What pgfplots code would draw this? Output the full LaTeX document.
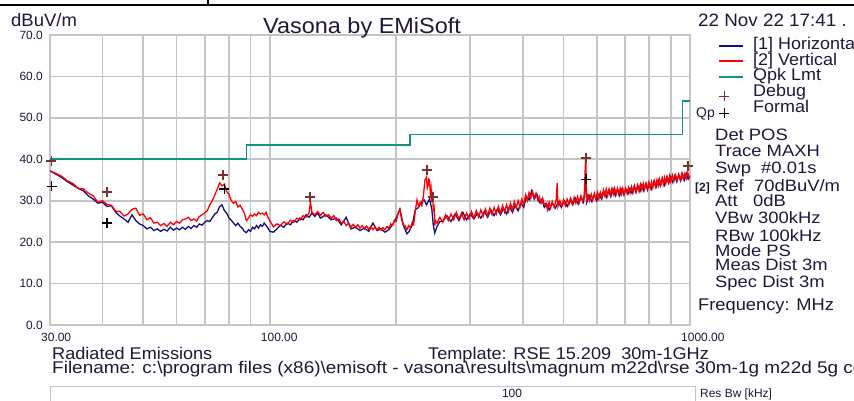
\documentclass[border=0pt]{standalone}
\usepackage{pgfplots}
\pgfplotsset{compat=1.18}
\usepackage{fontspec}
\setmainfont{Liberation Sans}
\usepackage{graphicx}
\definecolor{navy}{HTML}{10107F}
\definecolor{tealL}{HTML}{14908A}
\definecolor{gridg}{HTML}{C4C4C4}
\definecolor{txt}{HTML}{1A1A3A}
\definecolor{dbg}{HTML}{7A3030}
\newcommand{\T}[3]{{\fontsize{#1}{#1}\selectfont\scalebox{#2}[1]{#3}}}
\pgfplotsset{
  lineleg/.style={legend image code/.code={\draw[##1, line width=2bp] (0bp,0bp) -- (24bp,0bp);}},
  markleg/.style={legend image code/.code={\draw[##1] plot coordinates {(5bp,-4bp)};}},
}
\begin{document}
\begin{tikzpicture}[x=1bp,y=1bp]
\useasboundingbox (0,0) rectangle (854,400);
\clip (0,0) rectangle (854,400);
\fill[white] (0,0) rectangle (854,400);
% top table rule
\draw[line width=2bp] (0,395) -- (854,395);
\draw[line width=1.5bp] (208,395) -- (208,401);
\begin{axis}[
  at={(50bp,75bp)}, anchor=south west, scale only axis,
  width=640bp, height=290bp,
  xmode=log, xmin=30, xmax=1000, ymin=0, ymax=70,
  xtick={30,40,50,60,70,80,90,100,200,300,400,500,600,700,800,900,1000},
  xticklabels={30.00,,,,,,,100.00,,,,,,,,,1000.00},
  ytick={0,10,20,30,40,50,60,70},
  yticklabels={0.0,10.0,20.0,30.0,40.0,50.0,60.0,70.0},
  major tick length=0pt,
  grid=major,
  major grid style={draw=gridg, line width=1.8bp},
  axis line style={draw=gridg, line width=1.8bp},
  xticklabel style={font=\fontsize{12}{12}\selectfont, text=txt, anchor=north west, inner sep=0pt, xshift=-9bp, yshift=-8bp},
  yticklabel style={font=\fontsize{12}{12}\selectfont, text=txt, anchor=east, inner sep=0pt, xshift=-7bp},
  clip mode=individual,
  legend style={at={(axis description cs:1,1)}, anchor=north west, xshift=28bp, yshift=-3bp,
    draw=none, fill=none, inner sep=0pt, column sep=9bp, row sep=0pt,
    nodes={inner sep=0pt, text height=11.5bp, text depth=4bp, text=txt, font=\fontsize{17}{17}\selectfont}},
  legend cell align=left,
]
% [1] Horizontal
\addplot[navy, line width=1.3bp, lineleg] coordinates {
(30,37.2)(31,36.4)(32,35.6)(33,34.6)(34,33.8)(35,33.0)(36,32.4)(37,31.2)(38,30.4)(39,29.4)(40,29.6)(41,28.6)(42,28.8)(43,27.2)(44,26.3)(45,25.6)(46,24.8)(47,26.6)(48,25.2)(49,24.4)(50,24.0)(51,23.2)(52,23.6)(53,22.8)(54,23.2)(55,22.6)(56,23.1)(57,22.7)(58,23.6)(59,22.9)(60,23.4)(61,23.0)(62,23.6)(63,23.1)(64,23.8)(65,23.3)(66,24.0)(67,23.6)(68,24.4)(69,24.1)(70,24.8)(71,25.2)(72,25.0)(73,25.9)(74,26.8)(75,27.2)(76,28.6)(77,29.0)(78,27.6)(79,27.0)(80,25.8)(81,25.3)(82,24.6)(83,24.0)(84,24.6)(85,23.8)(86,23.4)(87,22.6)(88,22.3)(89,23.0)(90,22.6)(91,23.6)(92,23.2)(93,24.0)(94,23.4)(95,24.2)(96,23.8)(97,24.6)(98,24.0)(99,23.4)(100,22.6)(102,22.4)(104,23.2)(106,24.1)(108,23.6)(110,24.6)(112,24.2)(114,25.2)(116,24.8)(118,25.8)(120,25.4)(122,26.6)(124,26.0)(126,27.0)(128,26.2)(130,27.0)
(132,25.8)(136,26.6)(140,25.4)(144,25.8)(148,24.2)(152,26.0)(156,23.2)(160,23.6)(164,22.8)(168,23.4)(172,22.6)(176,24.6)(180,22.8)(184,23.2)(188,22.4)(192,23.0)(196,24.2)(200,25.8)(204,28.0)(208,24.0)(212,22.0)(214,22.4)(218,24.0)(222,27.8)(226,28.4)(230,29.8)(233,30.2)(236,29.0)(240,30.4)(243,28.0)(245,24.0)(247,22.2)(250,23.8)(254,25.0)
(258,25.0)(264,26.4)(270,25.0)(276,26.8)(282,25.2)(288,27.2)(294,25.4)(300,26.8)(306,25.6)(312,27.0)(318,25.8)(324,27.4)(330,26.0)(336,27.8)(342,26.4)(348,28.0)(354,26.6)(360,28.2)(366,26.8)(372,28.6)(378,27.2)(384,29.0)(390,27.6)(396,29.4)(402,28.4)(408,31.0)(414,30.2)(420,32.4)(426,30.4)(432,31.6)(438,29.6)(444,30.4)(450,28.4)(456,29.2)(462,27.8)(470,29.4)(478,28.2)(486,29.6)(494,28.4)(502,30.0)(510,28.6)(518,30.2)(526,29.0)(534,30.6)(542,29.2)(550,30.8)(558,29.6)(566,35.0)(568,29.6)(576,31.2)(584,29.8)(592,31.4)(600,30.0)(608,31.6)(616,30.4)(624,32.2)(632,30.8)(640,32.4)(648,31.0)(656,32.8)(664,31.2)(672,32.8)(680,31.2)(688,32.8)(696,31.4)(704,32.8)(712,31.6)(720,33.0)(728,31.8)(736,33.4)(744,32.0)(752,33.6)(760,32.2)(768,33.8)(776,32.4)(784,34.0)(792,32.6)(800,34.2)(810,32.8)(820,34.6)(830,33.2)(840,35.0)(850,33.6)(860,35.4)(870,33.8)(880,35.6)(890,34.2)(900,35.8)(910,34.4)(920,36.0)(930,34.6)(940,36.2)(950,34.8)(960,36.4)(970,35.0)(980,36.6)(990,35.2)(1000,36.0)
};
\addlegendentry{\T{17}{1.06}{[1] Horizontal}}
% [2] Vertical
\addplot[red, line width=1.3bp, lineleg] coordinates {
(30,37.2)(31,36.6)(32,35.9)(33,34.8)(34,34.2)(35,33.0)(36,32.9)(37,31.8)(38,31.2)(39,29.6)(40,30.0)(41,29.1)(42,28.9)(43,27.5)(44,27.4)(45,26.3)(46,26.8)(47,27.9)(48,28.2)(49,26.5)(50,26.8)(51,25.4)(52,25.9)(53,24.6)(54,24.8)(55,24.0)(56,24.5)(57,23.8)(58,24.8)(59,24.2)(60,25.0)(61,24.6)(62,25.4)(63,25.6)(64,26.0)(65,25.2)(66,25.6)(67,25.1)(68,26.2)(69,26.6)(70,27.0)(71,27.6)(72,29.0)(73,30.0)(74,31.4)(75,32.8)(76,34.3)(77,33.6)(78,34.0)(79,32.2)(80,31.5)(81,30.0)(82,29.4)(83,29.8)(84,28.5)(85,28.9)(86,28.0)(87,27.0)(88,25.2)(89,25.8)(90,26.6)(91,26.2)(92,26.8)(93,26.4)(94,27.2)(95,26.8)(96,27.0)(97,26.6)(98,27.2)(99,26.0)
(100,25.2)(102,23.7)(104,24.4)(106,24.0)(108,24.9)(110,24.3)(112,25.3)(114,24.8)(116,25.8)(118,25.3)(120,26.4)(122,26.0)(124,27.0)(125,29.7)(126,27.2)(128,26.6)(130,27.4)(132,26.5)(134,27.2)(136,26.2)(138,26.6)(140,25.8)(142,26.4)(144,25.2)(146,25.6)(148,24.6)(150,25.0)(152,24.0)(154,24.6)(156,23.6)(158,24.3)(160,23.5)(162,24.2)(164,23.4)(166,24.0)(168,23.2)(170,23.9)(172,23.1)(174,23.8)(176,23.0)(178,23.7)(180,23.0)(182,23.6)(184,22.9)(186,23.5)(188,23.0)(190,23.8)(192,23.3)(194,24.4)(196,24.0)(198,25.4)(200,25.0)(202,27.0)(204,27.8)(206,25.4)(208,24.2)(210,23.9)(212,23.0)(214,24.0)(216,23.4)(218,24.6)(220,24.2)(222,27.6)(224,30.2)(226,28.6)(228,29.6)(230,28.8)(232,31.0)(234,35.0)(236,35.7)(237,33.0)(238,33.6)(239,35.2)(240,35.0)(241,31.8)(242,33.0)(243,29.6)(244,30.9)(245,28.0)(246,28.5)(247,24.0)(248,25.2)
(250,24.6)(254,26.0)(258,24.8)(262,26.6)(266,25.2)(270,26.8)(274,25.4)(278,27.2)(282,25.6)(286,27.0)(290,25.4)(294,27.0)(298,25.6)(302,27.4)(306,25.8)(310,27.6)(314,26.0)(318,27.8)(322,26.2)(326,28.0)(330,26.4)(334,28.2)(338,26.6)(342,28.4)(346,26.8)(350,28.6)(354,27.0)(358,28.8)(362,27.2)(366,29.0)(370,27.4)(374,29.4)(378,27.8)(382,29.8)(386,28.2)(390,30.0)(394,28.4)(398,30.4)(402,29.0)(406,31.4)(410,30.0)(414,32.0)(418,30.6)(422,32.2)(426,30.8)(430,31.8)(434,30.2)(438,31.0)(442,29.4)(446,30.6)(450,29.0)(454,29.4)(458,27.8)(462,29.6)(466,28.2)(470,29.8)(475,28.4)(480,30.0)(483,34.3)(485,28.6)(490,30.0)(495,28.6)(500,30.2)(505,28.8)(510,30.4)(515,29.0)(520,30.6)(525,29.2)(530,30.8)(535,29.4)(540,31.0)(545,29.6)(550,31.2)(555,29.8)(560,31.2)(565,41.5)(567,30.0)(572,31.4)(577,30.0)(582,31.6)(587,30.2)(592,31.8)(597,30.4)(602,32.0)(607,30.4)(612,32.0)(617,30.8)(622,32.6)(627,31.2)(632,32.8)(637,31.2)(642,32.8)(647,31.4)(652,33.0)(657,31.6)(662,33.0)(667,31.6)(672,33.0)(677,31.6)(682,33.0)(687,31.6)(692,33.0)(697,31.6)(702,33.0)(708,31.8)(714,33.2)(720,31.8)(726,33.4)(732,32.0)(738,33.6)(744,32.2)(750,33.8)(756,32.4)(762,34.0)(768,32.6)(774,34.2)(780,32.8)(786,34.2)(792,32.8)(798,34.4)(804,33.0)(810,34.6)(816,33.2)(822,34.8)(828,33.4)(834,35.0)(840,33.6)(846,35.2)(852,33.8)(858,35.4)(864,34.0)(870,35.6)(876,34.2)(882,35.8)(888,34.4)(894,36.0)(900,34.6)(908,36.2)(916,34.8)(924,36.2)(932,35.0)(940,36.4)(948,35.0)(956,36.6)(964,35.2)(972,36.6)(980,35.4)(988,36.8)(995,35.6)(1000,36.0)
};
\addlegendentry{\T{17}{1.06}{[2] Vertical}}
% Qpk limit
\addplot[tealL, line width=1.8bp, lineleg] coordinates {
(30,40)(88,40)(88,43.5)(216,43.5)(216,46)(960,46)(960,54)(1000,54)
};
\addlegendentry{\T{17}{1.06}{Qpk Lmt}}
% Debug peaks
\addplot[only marks, mark=+, mark size=5bp, dbg, line width=1.3bp, markleg] coordinates {
(30.2,39.6)(41.0,32.1)(77.4,36.2)(124.7,30.9)(236.7,37.4)(244.6,30.9)(566,40.3)(989,38.4)
};
\addlegendentry{\T{17}{1.06}{Debug}}
% Formal
\addplot[only marks, mark=+, mark size=5bp, black, line width=1.3bp, markleg] coordinates {
(30.3,33.5)(41.0,24.6)(77.9,32.8)(566,35.2)
};
\addlegendentry{\T{17}{1.06}{Formal}}
\end{axis}
% texts
\node[anchor=base west, inner sep=0pt, text=txt] at (11,374) {\T{18}{1.03}{dBuV/m}};
\node[anchor=base west, inner sep=0pt, text=txt] at (263,367) {\T{22}{1.07}{Vasona by EMiSoft}};
\node[anchor=base west, inner sep=0pt, text=txt] at (698,374) {\T{18}{1.05}{22 Nov 22 17:41 .}};
\node[anchor=base west, inner sep=0pt, text=txt] at (696,283) {\T{14}{1.0}{Qp}};
\node[anchor=base west, inner sep=0pt, text=txt] at (715,260) {\T{16.5}{1.12}{Det POS}};
\node[anchor=base west, inner sep=0pt, text=txt] at (715,244) {\T{16.5}{1.12}{Trace MAXH}};
\node[anchor=base west, inner sep=0pt, text=txt] at (715,227) {\T{16.5}{1.12}{Swp\ \ \#0.01s}};
\node[anchor=base west, inner sep=0pt, text=txt] at (695,209) {\T{12}{1.0}{\bfseries [2]}};
\node[anchor=base west, inner sep=0pt, text=txt] at (715,209) {\T{16.5}{1.12}{Ref\ \ 70dBuV/m}};
\node[anchor=base west, inner sep=0pt, text=txt] at (715,194) {\T{16.5}{1.12}{Att\ \ \ 0dB}};
\node[anchor=base west, inner sep=0pt, text=txt] at (715,177) {\T{16.5}{1.12}{VBw 300kHz}};
\node[anchor=base west, inner sep=0pt, text=txt] at (715,159) {\T{16.5}{1.12}{RBw 100kHz}};
\node[anchor=base west, inner sep=0pt, text=txt] at (715,144) {\T{16.5}{1.12}{Mode PS}};
\node[anchor=base west, inner sep=0pt, text=txt] at (715,130) {\T{16.5}{1.12}{Meas Dist 3m}};
\node[anchor=base west, inner sep=0pt, text=txt] at (715,113) {\T{16.5}{1.12}{Spec Dist 3m}};
\node[anchor=base west, inner sep=0pt, text=txt] at (698,90) {\T{17}{1.08}{Frequency: MHz}};
\node[anchor=base west, inner sep=0pt, text=txt] at (52,41) {\T{17}{1.07}{Radiated Emissions}};
\node[anchor=base west, inner sep=0pt, text=txt] at (428,41) {\T{17}{1.07}{Template: RSE 15.209\ \ 30m-1GHz}};
\node[anchor=base west, inner sep=0pt, text=txt] at (52,27) {\T{17}{1.12}{Filename: c:\textbackslash program files (x86)\textbackslash emisoft - vasona\textbackslash results\textbackslash magnum m22d\textbackslash rse 30m-1g m22d 5g conducted}};
% resolution bandwidth bar
\draw[gridg, line width=1bp] (50,-5) rectangle (695,14);
\node[anchor=base, inner sep=0pt, text=txt] at (512,3) {\T{12}{1.0}{100}};
\node[anchor=base west, inner sep=0pt, text=txt] at (700,3) {\T{12}{1.0}{Res Bw [kHz]}};
\end{tikzpicture}
\end{document}
